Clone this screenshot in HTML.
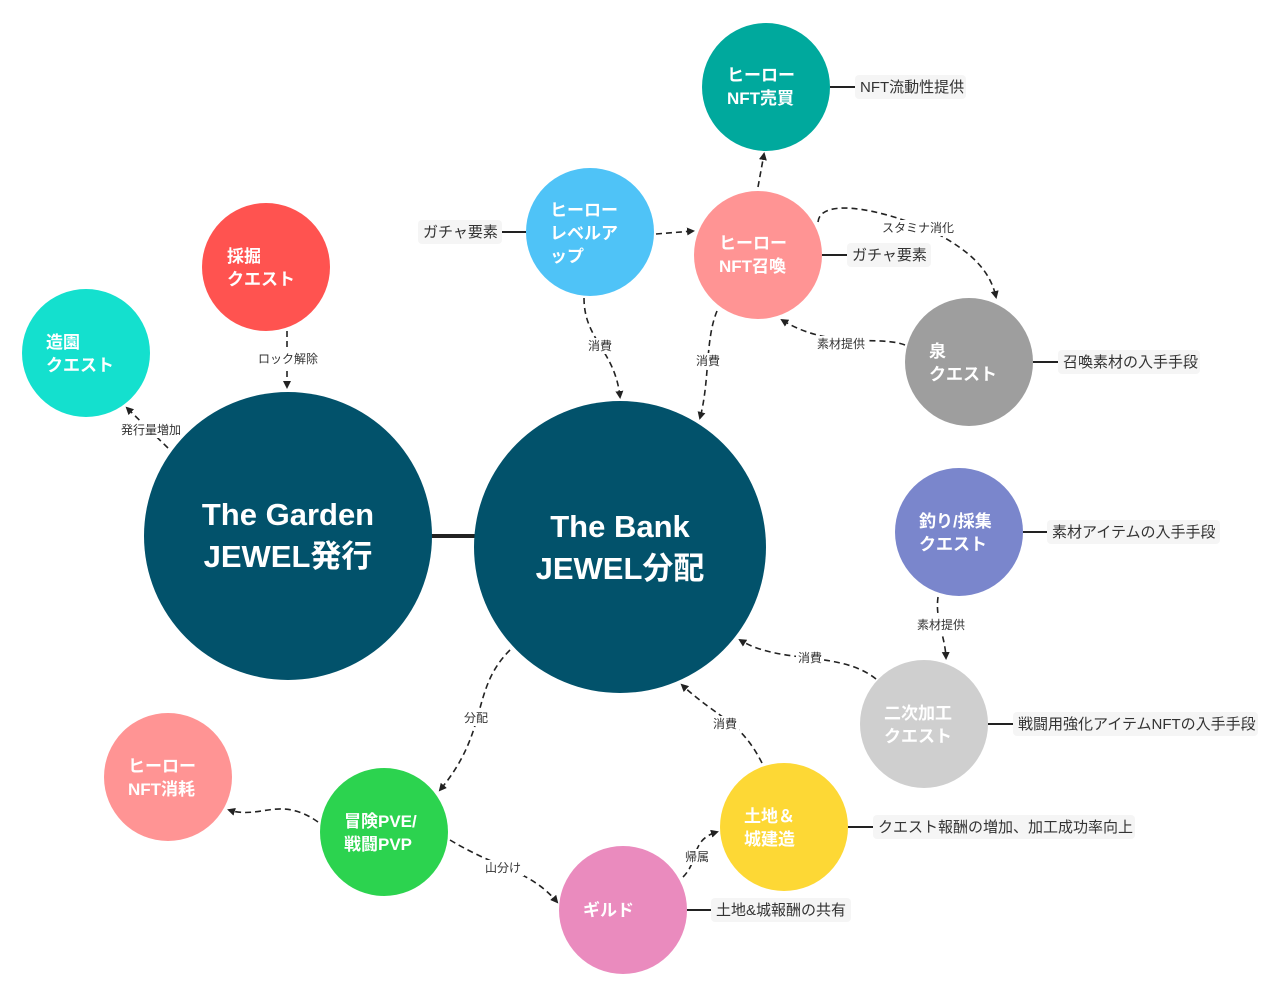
<!DOCTYPE html>
<html><head><meta charset="utf-8"><style>
body{margin:0;background:#fff;}
svg{display:block;font-family:"Liberation Sans","Noto Sans CJK JP",sans-serif;}
.n{fill:#fff;font-weight:bold;font-size:17px;}
.b{fill:#fff;font-weight:bold;font-size:31px;}
.e{fill:#333;font-size:12px;}
.lb{fill:#f5f5f5;}
.lt{fill:#333;font-size:15px;}
.d{fill:none;stroke:#222;stroke-width:1.6;stroke-dasharray:6 4;marker-end:url(#a);}
.s{stroke:#222;stroke-width:2;}
</style></head><body>
<svg width="1280" height="997" viewBox="0 0 1280 997">
<defs><marker id="a" markerWidth="8" markerHeight="8" refX="6" refY="4" orient="auto" markerUnits="userSpaceOnUse"><path d="M0,0 L8,4 L0,8 Z" fill="#222"/></marker></defs>

<line x1="430" y1="536" x2="476" y2="536" stroke="#222" stroke-width="4"/>

<line class="s" x1="830" y1="87" x2="855" y2="87"/>
<line class="s" x1="502" y1="232" x2="526" y2="232"/>
<line class="s" x1="822" y1="255" x2="847" y2="255"/>
<line class="s" x1="1033" y1="362" x2="1058" y2="362"/>
<line class="s" x1="1023" y1="532" x2="1047" y2="532"/>
<line class="s" x1="988" y1="724" x2="1013" y2="724"/>
<line class="s" x1="848" y1="827" x2="873" y2="827"/>
<line class="s" x1="687" y1="910" x2="711" y2="910"/>

<path class="d" d="M287,331 L287,387"/>
<path class="d" d="M168,448 L127,408"/>
<path class="d" d="M584,298 C584,340 615,350 620,397"/>
<path class="d" d="M717,311 C705,340 710,380 700,418"/>
<path class="d" d="M656,234 L693,231"/>
<path class="d" d="M758,187 L764,154"/>
<path class="d" d="M818,222 C820,200 870,205 930,230 C970,250 990,270 996,297"/>
<path class="d" d="M905,345 C880,335 830,350 782,320"/>
<path class="d" d="M938,597 C935,620 945,635 946,658"/>
<path class="d" d="M876,679 C840,650 780,665 740,640"/>
<path class="d" d="M762,763 C740,720 720,720 682,685"/>
<path class="d" d="M510,650 C470,690 490,730 440,790"/>
<path class="d" d="M318,822 C280,795 260,820 229,810"/>
<path class="d" d="M450,840 C500,870 530,870 557,902"/>
<path class="d" d="M683,877 C700,860 690,840 717,832"/>

<g class="e" text-anchor="middle">
<rect x="256" y="351" width="64" height="16" fill="#fff"/><text x="288" y="363">ロック解除</text>
<rect x="118" y="422" width="66" height="16" fill="#fff"/><text x="151" y="434">発行量増加</text>
<rect x="586" y="338" width="28" height="16" fill="#fff"/><text x="600" y="350">消費</text>
<rect x="694" y="353" width="28" height="16" fill="#fff"/><text x="708" y="365">消費</text>
<rect x="880" y="220" width="76" height="16" fill="#fff"/><text x="918" y="232">スタミナ消化</text>
<rect x="815" y="336" width="52" height="16" fill="#fff"/><text x="841" y="348">素材提供</text>
<rect x="915" y="617" width="52" height="16" fill="#fff"/><text x="941" y="629">素材提供</text>
<rect x="796" y="650" width="28" height="16" fill="#fff"/><text x="810" y="662">消費</text>
<rect x="711" y="716" width="28" height="16" fill="#fff"/><text x="725" y="728">消費</text>
<rect x="462" y="710" width="28" height="16" fill="#fff"/><text x="476" y="722">分配</text>
<rect x="484" y="860" width="40" height="16" fill="#fff"/><text x="503" y="872">山分け</text>
<rect x="683" y="849" width="28" height="16" fill="#fff"/><text x="697" y="861">帰属</text>
</g>

<circle cx="288" cy="536" r="144" fill="#02526B"/>
<circle cx="620" cy="547" r="146" fill="#02526B"/>
<circle cx="266" cy="267" r="64" fill="#FF5350"/>
<circle cx="86" cy="353" r="64" fill="#14E0CE"/>
<circle cx="590" cy="232" r="64" fill="#4FC3F7"/>
<circle cx="758" cy="255" r="64" fill="#FF9494"/>
<circle cx="766" cy="87" r="64" fill="#00A99D"/>
<circle cx="969" cy="362" r="64" fill="#9E9E9E"/>
<circle cx="959" cy="532" r="64" fill="#7A86CC"/>
<circle cx="924" cy="724" r="64" fill="#CFCFCF"/>
<circle cx="784" cy="827" r="64" fill="#FDD835"/>
<circle cx="623" cy="910" r="64" fill="#EA8BBE"/>
<circle cx="384" cy="832" r="64" fill="#2CD34F"/>
<circle cx="168" cy="777" r="64" fill="#FF9494"/>

<g class="b" text-anchor="middle">
<text x="288" y="525">The Garden</text><text x="288" y="567">JEWEL発行</text>
<text x="620" y="537">The Bank</text><text x="620" y="579">JEWEL分配</text>
</g>
<g class="n">
<text x="227" y="262">採掘</text><text x="227" y="285">クエスト</text>
<text x="46" y="348">造園</text><text x="46" y="371">クエスト</text>
<text x="550" y="216">ヒーロー</text><text x="550" y="239">レベルア</text><text x="550" y="262">ップ</text>
<text x="719" y="249">ヒーロー</text><text x="719" y="272">NFT召喚</text>
<text x="727" y="81">ヒーロー</text><text x="727" y="104">NFT売買</text>
<text x="929" y="357">泉</text><text x="929" y="380">クエスト</text>
<text x="919" y="527">釣り/採集</text><text x="919" y="550">クエスト</text>
<text x="884" y="719">二次加工</text><text x="884" y="742">クエスト</text>
<text x="744" y="822">土地＆</text><text x="744" y="845">城建造</text>
<text x="583" y="916">ギルド</text>
<text x="344" y="827">冒険PVE/</text><text x="344" y="850">戦闘PVP</text>
<text x="128" y="772">ヒーロー</text><text x="128" y="795">NFT消耗</text>
</g>

<rect class="lb" x="855" y="75" width="111" height="24" rx="4"/><text class="lt" x="860" y="92">NFT流動性提供</text>
<rect class="lb" x="418" y="220" width="84" height="24" rx="4"/><text class="lt" x="423" y="237">ガチャ要素</text>
<rect class="lb" x="847" y="243" width="84" height="24" rx="4"/><text class="lt" x="852" y="260">ガチャ要素</text>
<rect class="lb" x="1058" y="350" width="142" height="24" rx="4"/><text class="lt" x="1063" y="367">召喚素材の入手手段</text>
<rect class="lb" x="1047" y="520" width="173" height="24" rx="4"/><text class="lt" x="1052" y="537">素材アイテムの入手手段</text>
<rect class="lb" x="1013" y="712" width="245" height="24" rx="4"/><text class="lt" x="1018" y="729">戦闘用強化アイテムNFTの入手手段</text>
<rect class="lb" x="873" y="815" width="262" height="24" rx="4"/><text class="lt" x="878" y="832">クエスト報酬の増加、加工成功率向上</text>
<rect class="lb" x="711" y="898" width="140" height="24" rx="4"/><text class="lt" x="716" y="915">土地&amp;城報酬の共有</text>
</svg>
</body></html>
